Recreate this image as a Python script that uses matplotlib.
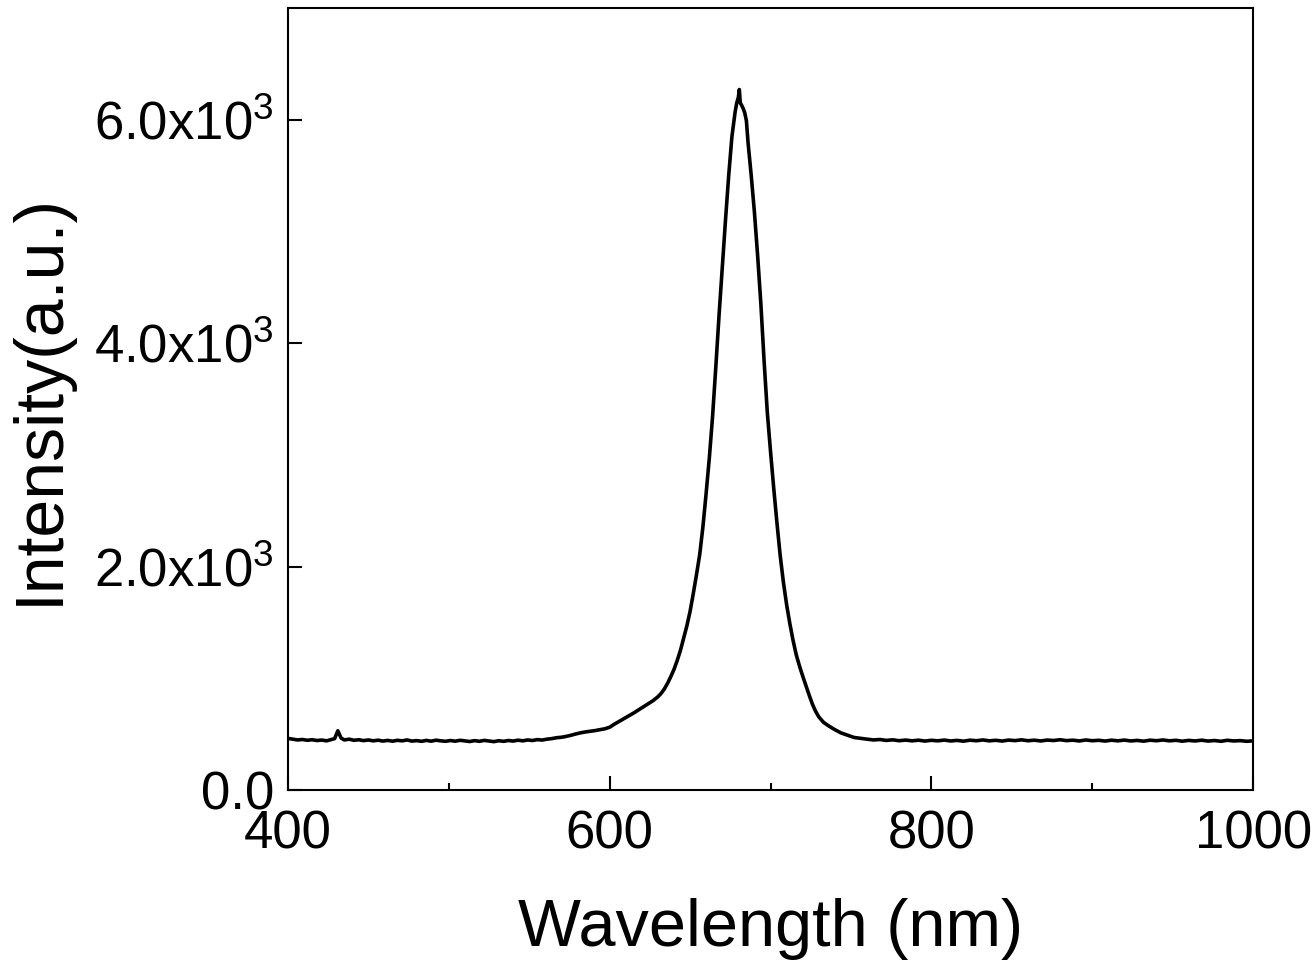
import matplotlib
matplotlib.use("Agg")
import matplotlib.pyplot as plt
from matplotlib.ticker import FuncFormatter, MultipleLocator

plt.rcParams['font.family'] = ['Liberation Sans', 'DejaVu Sans']
plt.rcParams['mathtext.default'] = 'regular'

# wavelength (nm) and intensity (a.u.)
wavelength = [400, 403, 406, 409, 412, 415, 418, 421, 424, 427, 429, 431, 433, 435, 438,
              441, 444, 447, 450, 453, 456, 459, 462, 465, 468, 471, 474, 477, 480, 483,
              486, 489, 492, 495, 498, 501, 504, 507, 510, 513, 516, 519, 522, 525, 528,
              531, 534, 537, 540, 543, 546, 549, 552, 555, 558, 561, 564, 567, 570, 573,
              576, 579, 582, 585, 588, 591, 594, 597, 600, 603, 606, 609, 612, 615, 618,
              621, 624, 627, 630, 632, 634, 636, 638, 640, 642, 644, 646, 648, 650, 652,
              654, 656, 658, 660, 662, 664, 666, 668, 670, 672, 674, 676, 678, 679, 680,
              680.6, 681.2, 682, 683, 684, 685, 686, 688, 690, 692, 694, 696, 698, 700,
              702, 704, 706, 708, 710, 712, 714, 716, 718, 720, 722, 724, 726, 728, 730,
              733, 736, 740, 744, 748, 752, 756, 760, 764, 768, 772, 776, 780, 784, 788,
              792, 796, 800, 804, 808, 812, 816, 820, 824, 828, 832, 836, 840, 844, 848,
              852, 856, 860, 864, 868, 872, 876, 880, 884, 888, 892, 896, 900, 904, 908,
              912, 916, 920, 924, 928, 932, 936, 940, 944, 948, 952, 956, 960, 964, 968,
              972, 976, 980, 984, 988, 992, 996, 1000]
intensity = [462, 455, 448, 452, 445, 450, 443, 447, 440, 452, 460, 530, 465, 448, 455,
             445, 450, 442, 448, 440, 446, 438, 444, 437, 445, 440, 448, 438, 442, 436,
             444, 437, 446, 440, 436, 443, 437, 445, 439, 434, 442, 436, 444, 438, 433,
             441, 436, 443, 438, 446, 440, 448, 443, 451, 447, 455, 460, 468, 472, 480,
             490, 502, 512, 520, 526, 532, 540, 548, 562, 590, 615, 640, 665, 690, 718,
             745, 772, 800, 835, 865, 905, 955, 1015, 1080, 1160, 1250, 1360, 1470, 1600, 1760,
             1930, 2110, 2360, 2660, 2980, 3350, 3790, 4250, 4680, 5100, 5500, 5850, 6070, 6150, 6200,
             6270, 6150, 6130, 6100, 6060, 5990, 5800, 5500, 5170, 4780, 4350, 3840, 3380, 3030,
             2700, 2390, 2100, 1860, 1660, 1490, 1340, 1210, 1110, 1020, 935, 850, 770, 705, 655,
             605, 575, 540, 510, 490, 470, 462, 455, 448, 452, 444, 449, 441, 447, 440,
             446, 438, 445, 440, 447, 439, 444, 437, 446, 441, 448, 440, 445, 438, 447,
             442, 449, 441, 446, 439, 447, 443, 450, 442, 446, 439, 448, 441, 445, 438,
             446, 440, 447, 439, 444, 437, 446, 441, 448, 440, 445, 437, 444, 439, 446,
             438, 443, 436, 445, 439, 442, 436, 440]

fig = plt.figure(figsize=(13.15, 9.71), dpi=100)
ax = fig.add_axes([0.219, 0.1864, 0.7339, 0.8054])

ax.plot(wavelength, intensity, color='black', lw=2.6)

ax.set_xlim(400, 1000)
ax.set_ylim(0, 7000)
ax.xaxis.set_major_locator(MultipleLocator(200))
ax.xaxis.set_minor_locator(MultipleLocator(100))
ax.set_yticks([0, 2000, 4000, 6000])


def yfmt(v, pos):
    if v == 0:
        return '0.0'
    return '%.1fx10$^{3}$' % (v / 1000)


ax.yaxis.set_major_formatter(FuncFormatter(yfmt))

ax.tick_params(which='both', direction='in', width=1.5, labelsize=38)
ax.tick_params(which='major', length=10)
ax.tick_params(which='minor', length=5)
ax.tick_params(axis='x', pad=14)
ax.tick_params(axis='y', pad=10)

# 边框加粗
for spine in ax.spines.values():
    spine.set_linewidth(1.5)

ax.set_xlabel('Wavelength (nm)', fontsize=48, labelpad=28)
ax.set_ylabel('Intensity(a.u.)', fontsize=49, labelpad=16)

fig.savefig('out.png', dpi=100)
